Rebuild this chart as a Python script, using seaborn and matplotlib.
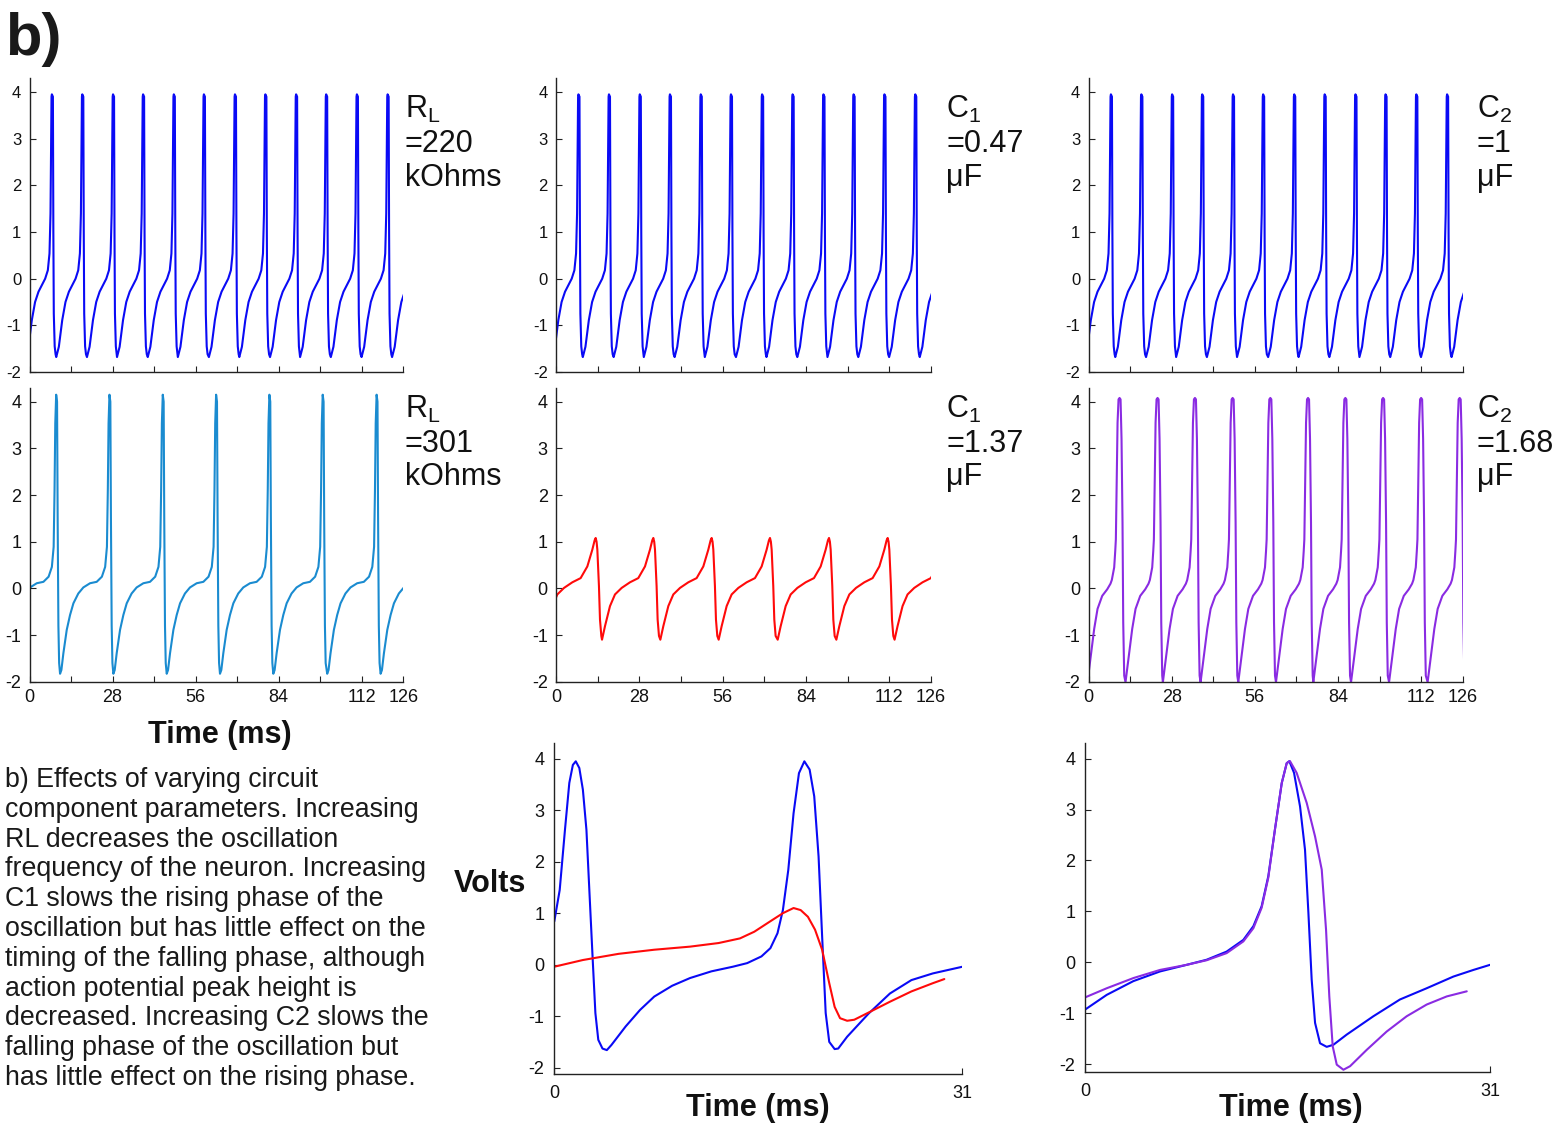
import numpy as np
import pandas as pd
import matplotlib
matplotlib.use("Agg")
import matplotlib.pyplot as plt
import seaborn as sns

W, H = 1562, 1126

# ---------------- data ----------------
# Control trace (top row, identical in all three panels): spike peak times (ms)
ctrl_peaks = [7.54, 17.79, 28.15, 38.28, 48.64, 58.78, 69.25, 79.5, 89.86,
              99.99, 110.35, 120.71, 131.0]
# one cycle around a spike: offsets (ms) relative to the peak and voltage
ctrl_pre_t = [-8.78, -7.9, -6.76, -5.66, -4.51, -3.39, -2.26, -1.36, -0.8,
              -0.46, -0.26, -0.12, 0.0]
ctrl_pre_v = [-1.68, -1.46, -0.89, -0.5, -0.28, -0.14, 0.0, 0.18, 0.54,
              1.4, 2.82, 3.9, 3.95]
ctrl_post_t = [0.35, 0.5, 0.65, 0.95, 1.25]
ctrl_post_v = [3.9, 1.0, -0.75, -1.45, -1.62]

# RL = 301 kOhms
rl_peaks = [8.99, 26.95, 44.92, 62.9, 80.86, 98.83, 117.0, 135.0]
rl_pre_t = [-16.65, -16.2, -15.53, -14.4, -13.28, -12.15, -10.5, -8.8,
            -6.54, -4.3, -2.55, -1.45, -0.85, -0.55, -0.3, 0.0]
rl_pre_v = [-1.83, -1.75, -1.39, -0.89, -0.57, -0.32, -0.11, 0.02,
            0.11, 0.14, 0.25, 0.46, 0.89, 2.1, 3.54, 4.15]
rl_post_t = [0.3, 0.5, 0.75, 1.0]
rl_post_v = [4.0, 1.5, -0.8, -1.6]

# C1 = 1.37 uF
c1_peaks = [13.33, 32.7, 52.3, 71.9, 91.73, 111.44, 131.0]
c1_pre_t = [-17.24, -16.24, -14.56, -12.88, -10.63, -7.84, -5.05, -2.8,
            -1.12, -0.35, 0.0]
c1_pre_v = [-1.1, -0.81, -0.38, -0.13, 0.01, 0.13, 0.22, 0.47, 0.83, 1.03, 1.08]
c1_post_t = [0.3, 0.56, 1.1, 1.45, 1.9]
c1_post_v = [1.0, 0.83, 0.05, -0.67, -1.02]

# C2 = 1.68 uF
c2_peaks = [10.45, 23.25, 35.83, 48.52, 61.21, 73.9, 86.47, 99.17, 111.97, 124.95]
c2_pre_t = [-10.79, -9.66, -8.54, -7.41, -5.83, -4.15, -3.05, -2.6, -1.8,
            -1.45, -1.24, -1.0, -0.67, -0.34, 0.0]
c2_pre_v = [-2.01, -1.44, -0.87, -0.44, -0.16, -0.02, 0.1, 0.18, 0.45,
            0.8, 1.05, 2.12, 3.55, 4.05, 4.08]
c2_post_t = [0.34, 0.67, 1.0, 1.24, 1.57]
c2_post_v = [4.05, 3.2, 1.41, -0.73, -1.87]

# Bottom-middle overlay (control blue vs C1 red), 0-31 ms
ovA_blue_t = [0, 0.41, 0.81, 1.14, 1.41, 1.63, 1.9, 2.17, 2.44, 2.71, 2.93, 3.12,
              3.34, 3.66, 3.99, 4.34, 5.42, 6.51, 7.59, 8.95, 10.31, 11.93,
              13.56, 14.65, 15.73, 16.41, 16.95, 17.36, 17.77, 18.17, 18.58,
              18.99, 19.39, 19.74, 20.07, 20.34, 20.61, 20.88, 21.29, 21.56,
              22.24, 23.87, 25.49, 27.12, 28.75, 31.0]
ovA_blue_v = [0.84, 1.45, 2.62, 3.53, 3.88, 3.95, 3.82, 3.4, 2.62, 1.19, 0.03, -0.94,
              -1.46, -1.63, -1.66, -1.56, -1.2, -0.88, -0.62, -0.41, -0.26, -0.13,
              -0.04, 0.03, 0.16, 0.32, 0.61, 1.06, 1.84, 2.94, 3.72,
              3.95, 3.79, 3.27, 2.1, 0.55, -0.94, -1.5, -1.64, -1.63,
              -1.4, -0.95, -0.56, -0.3, -0.17, -0.04]
ovA_red_t = [0, 2.17, 4.88, 7.59, 10.31, 12.48, 14.1, 15.19, 16.27, 17.36, 18.17,
             18.71, 19.26, 19.8, 20.34, 20.88, 21.29, 21.7, 22.24, 22.78, 23.87,
             25.49, 27.12, 28.75, 29.62]
ovA_red_v = [-0.04, 0.09, 0.21, 0.29, 0.35, 0.42, 0.51, 0.64, 0.82, 1.0, 1.1,
             1.06, 0.93, 0.68, 0.29, -0.36, -0.82, -1.04, -1.09, -1.07, -0.93,
             -0.72, -0.52, -0.36, -0.28]

# Bottom-right overlay (control blue vs C2 purple), 0-31 ms
ovB_blue_t = [0, 1.66, 3.7, 5.74, 7.78, 9.31, 10.84, 12.12, 12.89, 13.52, 14.03,
              14.54, 15.06, 15.44, 15.64, 16.0, 16.46, 16.84, 17.1, 17.35, 17.61,
              17.99, 18.5, 19.01, 20.03, 22.07, 24.11, 26.15, 28.2, 29.73, 31.0]
ovB_blue_v = [-0.93, -0.64, -0.37, -0.18, -0.05, 0.05, 0.21, 0.44, 0.71, 1.1, 1.69,
              2.61, 3.52, 3.91, 3.95, 3.72, 3.06, 2.21, 0.97, -0.34, -1.19,
              -1.59, -1.66, -1.62, -1.42, -1.06, -0.73, -0.51, -0.28, -0.15, -0.05]
ovB_purple_t = [0, 1.66, 3.7, 5.74, 7.78, 9.31, 10.84, 12.12, 12.89, 13.52, 14.03,
                14.54, 15.06, 15.44, 15.69, 16.2, 16.97, 17.61, 18.12, 18.45, 18.7,
                18.96, 19.27, 19.78, 20.29, 21.56, 23.09, 24.62, 26.15, 27.69, 29.22]
ovB_purple_v = [-0.69, -0.51, -0.31, -0.15, -0.05, 0.04, 0.18, 0.41, 0.67, 1.07, 1.66,
                2.61, 3.52, 3.91, 3.95, 3.72, 3.13, 2.47, 1.82, 0.64, -0.67,
                -1.65, -2.01, -2.11, -2.04, -1.72, -1.36, -1.06, -0.83, -0.67, -0.57]

y_ticks = [-2, -1, 0, 1, 2, 3, 4]
x_ticks_long = [0, 14, 28, 42, 56, 70, 84, 98, 112, 126]
x_labels_long = ["0", "", "28", "", "56", "", "84", "", "112", "126"]

top_labels = [["R$_\\mathregular{L}$", "=220", "kOhms"],
              ["C$_\\mathregular{1}$", "=0.47", "μF"],
              ["C$_\\mathregular{2}$", "=1", "μF"]]
mid_labels = [["R$_\\mathregular{L}$", "=301", "kOhms"],
              ["C$_\\mathregular{1}$", "=1.37", "μF"],
              ["C$_\\mathregular{2}$", "=1.68", "μF"]]

caption_lines = ["b) Effects of varying circuit",
                 "component parameters. Increasing",
                 "RL decreases the oscillation",
                 "frequency of the neuron. Increasing",
                 "C1 slows the rising phase of the",
                 "oscillation but has little effect on the",
                 "timing of the falling phase, although",
                 "action potential peak height is",
                 "decreased. Increasing C2 slows the",
                 "falling phase of the oscillation but",
                 "has little effect on the rising phase."]

BLUE = "#0a0af5"
CYAN = "#1a8bd0"
RED = "#ff0a0a"
PURPLE = "#8a2be2"


def build_trace(peaks, pre_t, pre_v, post_t, post_v):
    t, v = [], []
    for p in peaks:
        t += [p + o for o in pre_t]
        v += list(pre_v)
        t += [p + o for o in post_t]
        v += list(post_v)
    return pd.DataFrame({"t": t, "v": v})


# ---------------- style ----------------
sns.set_theme(style="ticks")
plt.rcParams["font.family"] = ["Liberation Sans", "DejaVu Sans"]
plt.rcParams["mathtext.fontset"] = "custom"
plt.rcParams["mathtext.rm"] = "Liberation Sans"
plt.rcParams["mathtext.it"] = "Liberation Sans:italic"
plt.rcParams["mathtext.bf"] = "Liberation Sans:bold"
plt.rcParams["axes.unicode_minus"] = False

fig = plt.figure(figsize=(W / 100, H / 100), dpi=100)
fig.patch.set_facecolor("white")


def add_ax(l, r, t, b):
    return fig.add_axes([l / W, 1 - b / H, (r - l) / W, (b - t) / H])


def style(ax, xlim, ylim, xticks, xlabels, lsize):
    ax.set_xlim(*xlim)
    ax.set_ylim(*ylim)
    ax.set_facecolor("none")
    for s in ["top", "right"]:
        ax.spines[s].set_visible(False)
    for s in ["left", "bottom"]:
        ax.spines[s].set_linewidth(1.0)
        ax.spines[s].set_color("#222222")
    ax.set_yticks(y_ticks)
    ax.set_yticklabels([str(y) for y in y_ticks])
    ax.set_xticks(xticks)
    ax.set_xticklabels(xlabels)
    ax.tick_params(axis="both", direction="in", length=4, width=0.8,
                   colors="#222222", labelcolor="#111111", labelsize=lsize)
    ax.tick_params(axis="y", pad=6)
    ax.tick_params(axis="x", pad=5)
    ax.set_xlabel("")
    ax.set_ylabel("")


def px_text(x, y, s, **kw):
    fig.text(x / W, 1 - y / H, s, **kw)


col_x = [(29.5, 403.3), (556.0, 931.0), (1088.5, 1462.8)]
label_x = [405, 946, 1477]

# ---- top row: control ----
ctrl = build_trace(ctrl_peaks, ctrl_pre_t, ctrl_pre_v, ctrl_post_t, ctrl_post_v)
for i, (l, r) in enumerate(col_x):
    ax = add_ax(l, r, 78.0, 372.0)
    sns.lineplot(x=ctrl["t"].values, y=ctrl["v"].values, ax=ax, color=BLUE,
                 lw=1.5, sort=False, estimator=None)
    style(ax, (0, 126), (-2, 4.3), x_ticks_long, [""] * len(x_ticks_long), 12)
    for j, (s, yb) in enumerate(zip(top_labels[i], [118, 152, 186])):
        px_text(label_x[i], yb, s, fontsize=22, va="baseline", ha="left",
                color="#111111")

# ---- middle row ----
mid = [build_trace(rl_peaks, rl_pre_t, rl_pre_v, rl_post_t, rl_post_v),
       build_trace(c1_peaks, c1_pre_t, c1_pre_v, c1_post_t, c1_post_v),
       build_trace(c2_peaks, c2_pre_t, c2_pre_v, c2_post_t, c2_post_v)]
mid_colors = [CYAN, RED, PURPLE]
for i, (l, r) in enumerate(col_x):
    ax = add_ax(l, r, 387.7, 681.7)
    d = mid[i]
    sns.lineplot(x=d["t"].values, y=d["v"].values, ax=ax, color=mid_colors[i],
                 lw=1.5, sort=False, estimator=None)
    style(ax, (0, 126), (-2, 4.3), x_ticks_long, x_labels_long, 13)
    for j, (s, yb) in enumerate(zip(mid_labels[i], [418, 452, 485])):
        px_text(label_x[i], yb, s, fontsize=22, va="baseline", ha="left",
                color="#111111")

px_text(220, 735, "Time (ms)", fontsize=22, fontweight="bold", ha="center",
        va="center", color="#111111")

# ---- bottom-middle overlay ----
ax = add_ax(554.3, 962.5, 743.3, 1074.3)
sns.lineplot(x=ovA_blue_t, y=ovA_blue_v, ax=ax, color=BLUE, lw=1.5,
             sort=False, estimator=None)
sns.lineplot(x=ovA_red_t, y=ovA_red_v, ax=ax, color=RED, lw=1.5,
             sort=False, estimator=None)
style(ax, (0, 31), (-2.13, 4.3), [0, 31], ["0", "31"], 13)
ax.tick_params(axis="x", pad=8)
ax.tick_params(axis="y", pad=7)

# ---- bottom-right overlay ----
ax = add_ax(1085.0, 1490.0, 743.3, 1072.3)
sns.lineplot(x=ovB_blue_t, y=ovB_blue_v, ax=ax, color=BLUE, lw=1.5,
             sort=False, estimator=None)
sns.lineplot(x=ovB_purple_t, y=ovB_purple_v, ax=ax, color=PURPLE, lw=1.5,
             sort=False, estimator=None)
style(ax, (0, 31), (-2.16, 4.3), [0, 31], ["0", "31"], 13)
ax.tick_params(axis="x", pad=8)
ax.tick_params(axis="y", pad=7)

px_text(758, 1108, "Time (ms)", fontsize=22, fontweight="bold", ha="center",
        va="center", color="#111111")
px_text(1291, 1108, "Time (ms)", fontsize=22, fontweight="bold", ha="center",
        va="center", color="#111111")
px_text(490, 884, "Volts", fontsize=22, fontweight="bold", ha="center",
        va="center", color="#111111")

# ---- panel letter and caption ----
px_text(5, 55, "b)", fontsize=43, fontweight="bold", ha="left", va="baseline",
        color="#1a1a1a")
for k, line in enumerate(caption_lines):
    px_text(5, 780 + k * 29.8, line, fontsize=19.3, ha="left", va="center",
            color="#1a1a1a")

fig.savefig("out.png", dpi=100, facecolor="white")
